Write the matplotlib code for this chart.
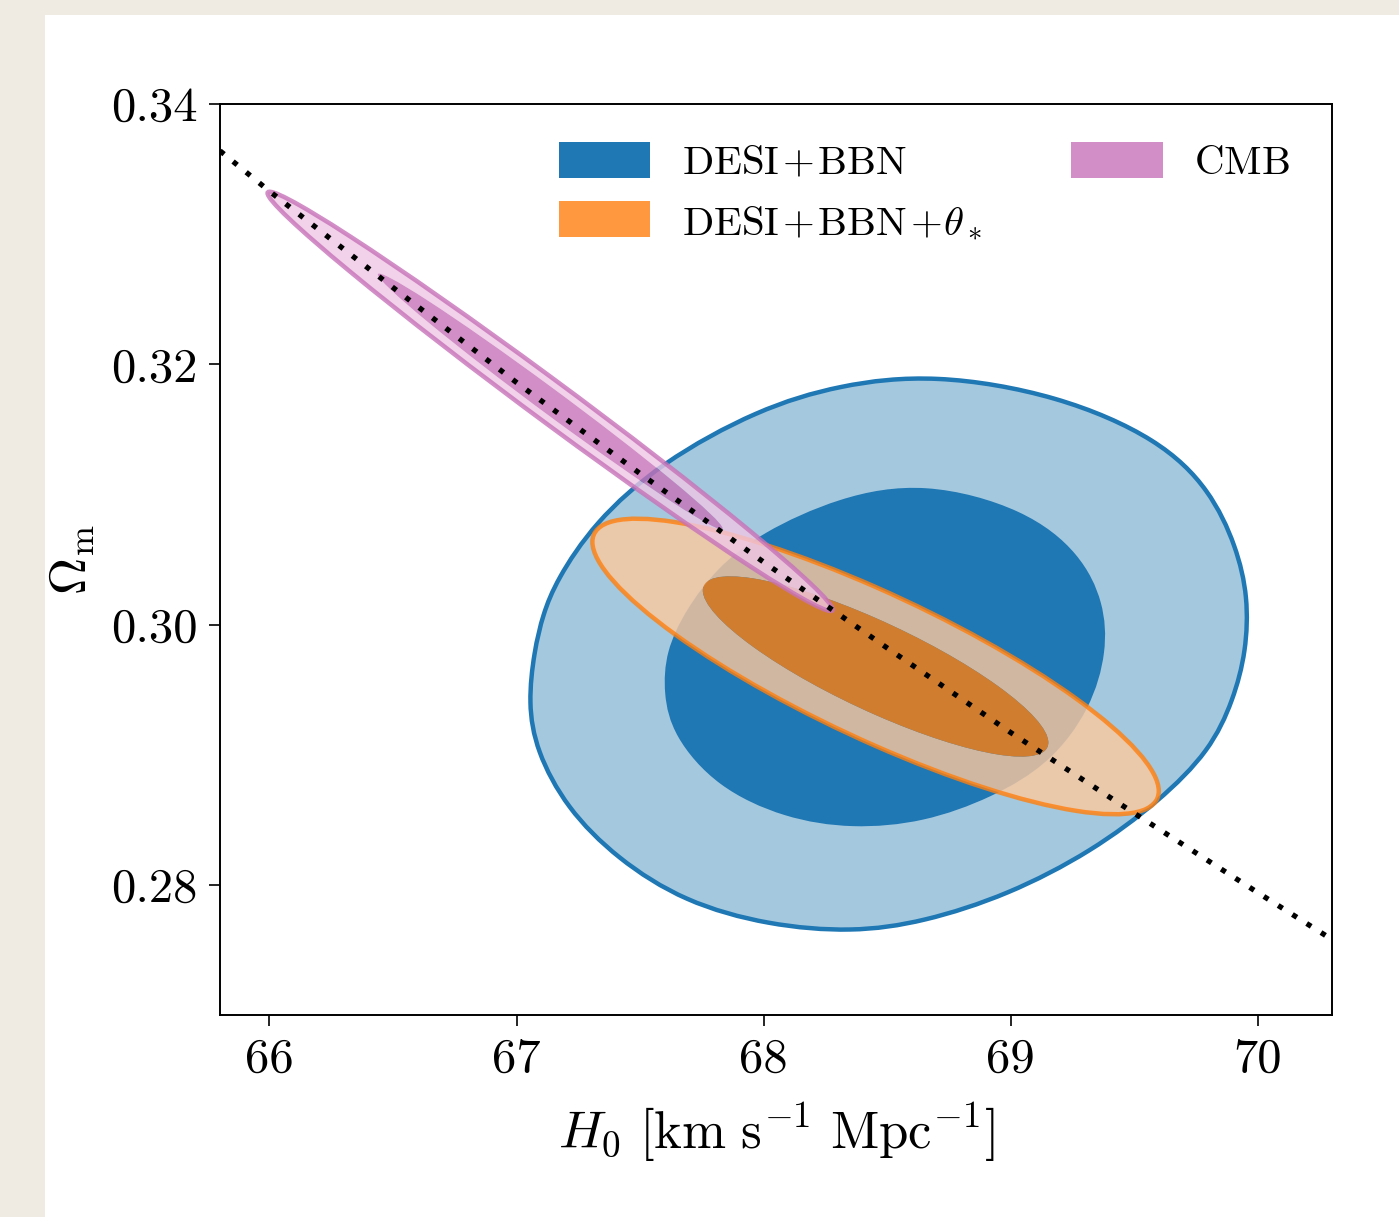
import numpy as np
import matplotlib
matplotlib.use("Agg")
import matplotlib.pyplot as plt
from matplotlib.path import Path
from matplotlib.patches import PathPatch, Patch, Rectangle
from matplotlib.transforms import Affine2D

plt.rcParams['font.family'] = 'serif'
plt.rcParams['font.serif'] = ['cmr10', 'DejaVu Serif']
plt.rcParams['mathtext.fontset'] = 'cm'
plt.rcParams['axes.formatter.use_mathtext'] = True

# ---------------- data ----------------
# DESI+BBN contours (non-Gaussian): boundary control points
desi_outer_h0 = [68.686, 69.193, 69.602, 69.807, 69.913, 69.961, 69.953, 69.901, 69.807,
                 69.602, 69.328, 68.989, 68.645, 68.359, 68.019, 67.680, 67.406, 67.202,
                 67.079, 67.047, 67.071, 67.107, 67.161, 67.312, 67.582, 67.979, 68.306]
desi_outer_om = [0.31929, 0.31765, 0.31424, 0.31035, 0.30601, 0.30212, 0.29793, 0.29421, 0.29032,
                 0.28644, 0.28256, 0.27922, 0.27713, 0.27635, 0.27689, 0.27867, 0.28201, 0.28590,
                 0.29032, 0.29397, 0.29793, 0.30081, 0.30337, 0.30779, 0.31244, 0.31656, 0.31843]
desi_inner_h0 = [68.648, 69.061, 69.283, 69.378, 69.390, 69.325, 69.160, 68.924, 68.648,
                 68.358, 68.085, 67.809, 67.632, 67.594, 67.603, 67.685, 67.809, 67.987, 68.305]
desi_inner_om = [0.31103, 0.30888, 0.30545, 0.30169, 0.29795, 0.29356, 0.28933, 0.28669, 0.28478,
                 0.28430, 0.28510, 0.28750, 0.29148, 0.29467, 0.29795, 0.30114, 0.30433, 0.30704, 0.30983]

# Gaussian contours: mean, sigma, correlation
theta_mean = [68.453, 0.29678]
theta_sigma = [0.461, 0.004568]
theta_rho = -0.843

cmb_mean = [67.136, 0.31715]
cmb_sigma = [0.460, 0.00648]
cmb_rho = -0.9929

levels_dchi2 = [2.30, 6.18]   # 68% and 95% 2D levels

# degeneracy direction (dotted line)
line_h0 = [65.8, 66.0, 66.5, 67.0, 67.5, 68.0, 68.5, 69.0, 69.5, 70.0, 70.3]
line_om = [0.3364, 0.3333, 0.3259, 0.3186, 0.3116, 0.3048, 0.2982, 0.2917, 0.2855, 0.2794, 0.2758]

legend_labels = [r'$\mathrm{DESI}\hspace{0.1}{+}\hspace{0.1}\mathrm{BBN}$',
                 r'$\mathrm{DESI}\hspace{0.1}{+}\hspace{0.1}\mathrm{BBN}\hspace{0.1}{+}\hspace{0.05}\theta_*$',
                 r'$\mathrm{CMB}$']
xticks = [66, 67, 68, 69, 70]
yticks = [0.28, 0.30, 0.32, 0.34]

# ---------------- styles ----------------
blue_dark = '#1f77b4'
blue_light = '#a4c8de'
or_inner = '#ff7f0e'
or_outer = '#fcc89e'
or_alpha = 0.8
pk_inner = '#c772b8'
pk_outer = '#efc7e5'
pk_alpha = 0.8


def bspline_closed(xs, ys):
    """Closed uniform cubic B-spline using the listed boundary points as control points."""
    P = np.column_stack([xs, ys])
    n = len(P)
    verts, codes = [], []
    for i in range(n):
        pm, p0, p1, p2 = P[i - 1], P[i], P[(i + 1) % n], P[(i + 2) % n]
        b0 = (pm + 4 * p0 + p1) / 6.0
        b1 = (2 * p0 + p1) / 3.0
        b2 = (p0 + 2 * p1) / 3.0
        b3 = (p0 + 4 * p1 + p2) / 6.0
        if i == 0:
            verts.append(b0)
            codes.append(Path.MOVETO)
        verts += [b1, b2, b3]
        codes += [Path.CURVE4] * 3
    verts.append(verts[0])
    codes.append(Path.CLOSEPOLY)
    return Path(np.array(verts), codes)


def gauss_path(mean, sig, rho, dchi2, flip=False):
    k = np.sqrt(dchi2)
    a = k * sig[0]
    c = k * rho * sig[1]
    d = k * sig[1] * np.sqrt(1 - rho ** 2)
    T = Affine2D(np.array([[a, 0, mean[0]], [c, d, mean[1]], [0, 0, 1.0]]))
    if flip:
        T = Affine2D().scale(1, -1) + T
    return T.transform_path(Path.unit_circle())


def gauss_contours(ax, mean, sig, rho, c_in, c_out, alpha, z):
    outer = gauss_path(mean, sig, rho, levels_dchi2[1])
    inner = gauss_path(mean, sig, rho, levels_dchi2[0])
    inner_rev = gauss_path(mean, sig, rho, levels_dchi2[0], flip=True)
    ring = Path.make_compound_path(outer, inner_rev)
    ax.add_patch(PathPatch(ring, facecolor=c_out, edgecolor='none', alpha=alpha, zorder=z))
    ax.add_patch(PathPatch(inner, facecolor=c_in, edgecolor='none', alpha=alpha, zorder=z))
    ax.add_patch(PathPatch(outer, facecolor='none', edgecolor=c_in, lw=3.2, alpha=alpha, zorder=z + 0.1))


fig = plt.figure(figsize=(13.99, 12.17), dpi=100, facecolor='#efebe3')
card = Rectangle((45 / 1399, 0), 1 - 45 / 1399, 1 - 15 / 1217,
                 transform=fig.transFigure, facecolor='white',
                 edgecolor='none', zorder=-10)
fig.patches.append(card)
ax = fig.add_axes([220 / 1399, 1 - 1015 / 1217, 1112 / 1399, 911 / 1217])
ax.set_zorder(1)
ax.set_facecolor('white')

# DESI+BBN
p_out = bspline_closed(desi_outer_h0, desi_outer_om)
p_in = bspline_closed(desi_inner_h0, desi_inner_om)
ax.add_patch(PathPatch(p_out, facecolor=blue_light, edgecolor='none', zorder=1))
ax.add_patch(PathPatch(p_in, facecolor=blue_dark, edgecolor='none', zorder=1.1))
ax.add_patch(PathPatch(p_out, facecolor='none', edgecolor=blue_dark, lw=3.2, zorder=1.2))

# DESI+BBN+theta*
gauss_contours(ax, theta_mean, theta_sigma, theta_rho, or_inner, or_outer, or_alpha, 2)
# CMB
gauss_contours(ax, cmb_mean, cmb_sigma, cmb_rho, pk_inner, pk_outer, pk_alpha, 3)

ax.plot(line_h0, line_om, color='black', lw=3.8, linestyle=(0, (1, 2.2)), zorder=5)

ax.set_xlim(65.8, 70.3)
ax.set_ylim(0.27, 0.34)
ax.set_xticks(xticks)
ax.set_xticklabels([str(t) for t in xticks])
ax.set_yticks(yticks)
ax.set_yticklabels(['%.2f' % t for t in yticks])
ax.tick_params(axis='both', direction='out', length=8, width=1.2, labelsize=35, pad=8)
for s in ax.spines.values():
    s.set_linewidth(1.4)

ax.set_xlabel(r'$H_0\ [\mathrm{km\ s^{-1}\ Mpc^{-1}}]$', fontsize=38, labelpad=14)
ax.set_ylabel(r'$\Omega_\mathrm{m}$', fontsize=37, labelpad=10)

handles = [Patch(facecolor=blue_dark, edgecolor='none'),
           Patch(facecolor=or_inner, alpha=or_alpha, edgecolor='none'),
           Patch(facecolor=pk_inner, alpha=pk_alpha, edgecolor='none')]
ax.legend(handles, legend_labels, ncol=2, loc='upper right', frameon=False,
          fontsize=29.5, handlelength=2.23, handleheight=0.95, handletextpad=0.76,
          columnspacing=2.18, labelspacing=0.47, borderaxespad=0.0,
          bbox_to_anchor=(1.0 - 26 / 1112, 1.0 - 22 / 911))

fig.savefig('out.png', dpi=100, facecolor=fig.get_facecolor())
